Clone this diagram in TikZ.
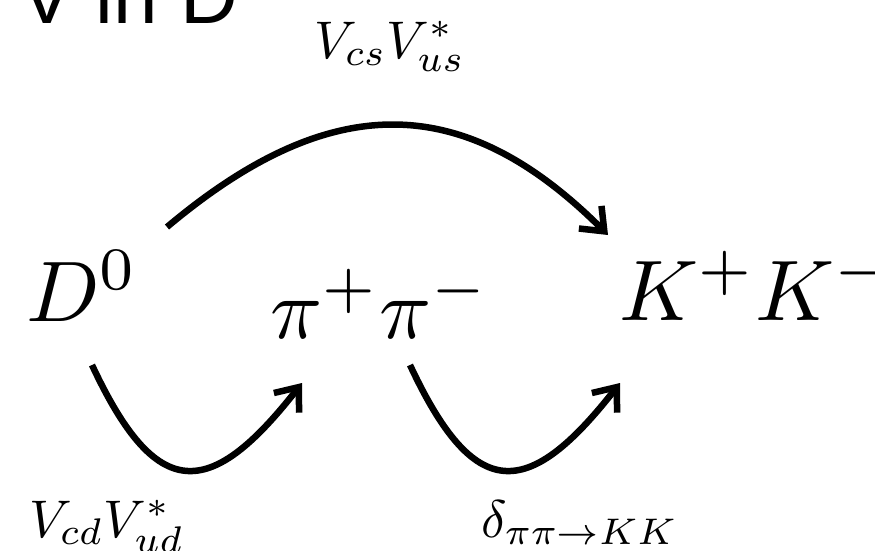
\RequirePackage{fix-cm}
\documentclass[tikz,border=0pt]{standalone}
\usepackage{fontspec}
\newfontfamily\titlefont{Liberation Sans}
\usetikzlibrary{arrows.meta}
\newcommand{\myBigMath}[1]{\scalebox{8.6}{$#1$}}
\newcommand{\myLabMath}[1]{\scalebox{5.3}{$#1$}}
\tikzset{
  big/.style={inner sep=0pt, anchor=base west, font=\fontsize{10}{12}\selectfont},
  lab/.style={inner sep=0pt, anchor=base west, font=\fontsize{10}{12}\selectfont},
  arr/.style={line width=6.5pt, line cap=butt, -{Straight Barb[length=20pt,width=32pt]}},
}
\begin{document}
\begin{tikzpicture}[x=1pt,y=-1pt]
\clip (0,0) rectangle (875,550);
\node[inner sep=0pt, anchor=base west, font=\titlefont\fontsize{80}{80}\selectfont] (title) at (20,23) {V in D};
\node[big] (D0) at (26,321) {\myBigMath{D^0}};
\node[big] (pipi) at (270,338) {\myBigMath{\pi^+\pi^-}};
\node[big] (KK) at (619,320) {\myBigMath{K^+K^-}};
\node[lab] (vtop) at (314,58) {\myLabMath{V_{cs}V_{us}^*}};
\node[lab] (vbot) at (29,537) {\myLabMath{V_{cd}V_{ud}^*}};
\node[lab] (delta) at (481,537) {\myLabMath{\delta_{\pi\pi\to KK}}};
\coordinate (a1s) at (167,227);
\coordinate (a1e) at (608,235);
\coordinate (a2s) at (92,365);
\coordinate (a2e) at (302,383);
\coordinate (a3s) at (410,365);
\coordinate (a3e) at (620,383);
\draw[arr] (a1s) .. controls (330,90) and (463,90) .. (a1e);
\draw[arr] (a2s) .. controls (156,502) and (209,502) .. (a2e);
\draw[arr] (a3s) .. controls (474,502) and (527,502) .. (a3e);
\end{tikzpicture}
\end{document}
